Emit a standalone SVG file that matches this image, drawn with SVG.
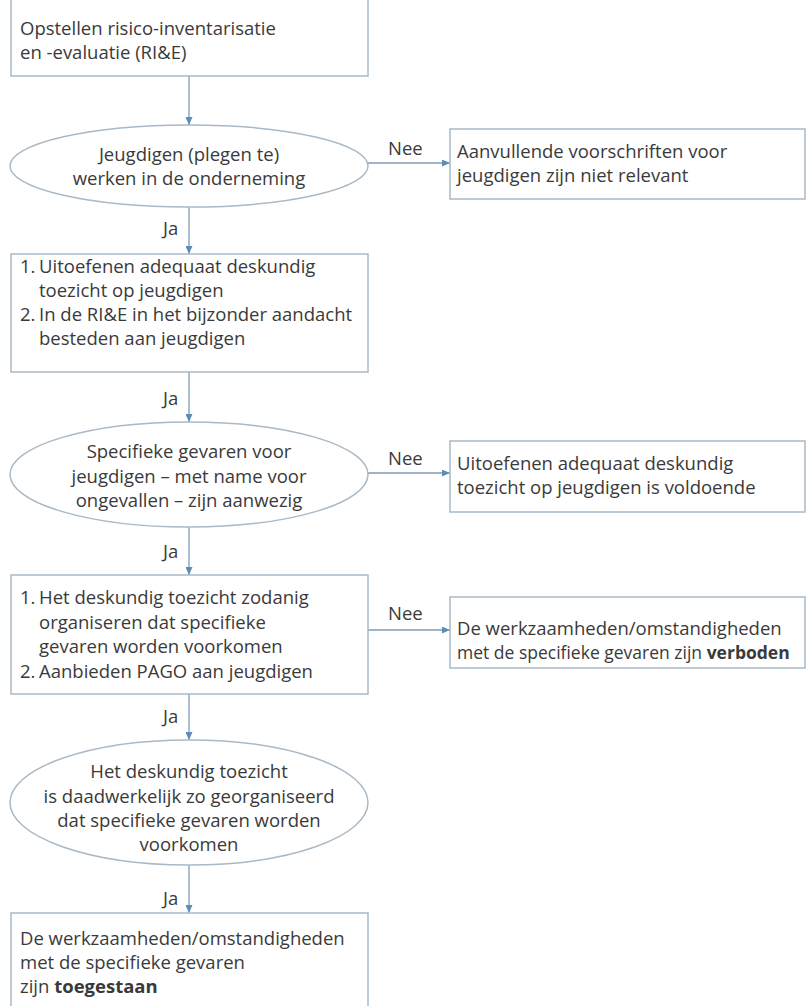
<svg xmlns="http://www.w3.org/2000/svg" width="806" height="1006" viewBox="0 0 806 1006">
<style>
.box{fill:#ffffff;stroke:#a9b9c6;stroke-width:1.5}
.con{stroke:#7d9db8;stroke-width:1.3;fill:none}
.t{font-family:"Open Sans","Liberation Sans",sans-serif;font-size:18.5px;fill:#3a3a3a}
.c{text-anchor:middle}
.b{font-weight:bold}
.s{font-size:17.5px}
</style>
<defs>
<marker id="ah" markerUnits="userSpaceOnUse" viewBox="0 0 8 7" refX="8" refY="3.5" markerWidth="8" markerHeight="7" orient="auto">
<path d="M0,0 L8,3.5 L0,7 z" fill="#5d8db5"/>
</marker>
</defs>
<rect width="806" height="1006" fill="#ffffff"/>
<g id="connectors">
<line class="con" x1="189" y1="76" x2="189" y2="125" marker-end="url(#ah)"/>
<line class="con" x1="189" y1="207" x2="189" y2="254" marker-end="url(#ah)"/>
<line class="con" x1="368" y1="163" x2="450" y2="163" marker-end="url(#ah)"/>
<line class="con" x1="189" y1="372" x2="189" y2="422" marker-end="url(#ah)"/>
<line class="con" x1="368" y1="473" x2="450" y2="473" marker-end="url(#ah)"/>
<line class="con" x1="189" y1="527" x2="189" y2="575" marker-end="url(#ah)"/>
<line class="con" x1="368" y1="630" x2="450" y2="630" marker-end="url(#ah)"/>
<line class="con" x1="189" y1="694" x2="189" y2="740" marker-end="url(#ah)"/>
<line class="con" x1="189" y1="865" x2="189" y2="913" marker-end="url(#ah)"/>
<text class="t" x="163" y="235">Ja</text>
<text class="t" x="163" y="405">Ja</text>
<text class="t" x="163" y="558">Ja</text>
<text class="t" x="163" y="723">Ja</text>
<text class="t" x="163" y="905">Ja</text>
<text class="t" x="388" y="155">Nee</text>
<text class="t" x="388" y="465">Nee</text>
<text class="t" x="388" y="620">Nee</text>
</g>
<g id="n1">
<rect class="box" x="11" y="-4" width="357" height="80"/>
<text class="t" x="20" y="35">Opstellen risico-inventarisatie</text>
<text class="t" x="20" y="59">en -evaluatie (RI&amp;E)</text>
</g>
<g id="d1">
<ellipse class="box" cx="189" cy="166" rx="179" ry="41"/>
<text class="t c" x="189" y="161">Jeugdigen (plegen te)</text>
<text class="t c" x="189" y="185">werken in de onderneming</text>
</g>
<g id="r1">
<rect class="box" x="450" y="129" width="355" height="70"/>
<text class="t" x="457" y="158">Aanvullende voorschriften voor</text>
<text class="t" x="457" y="182">jeugdigen zijn niet relevant</text>
</g>
<g id="n2">
<rect class="box" x="11" y="254" width="357" height="118"/>
<text class="t" x="20" y="273">1.</text>
<text class="t" x="39" y="273">Uitoefenen adequaat deskundig</text>
<text class="t" x="39" y="297">toezicht op jeugdigen</text>
<text class="t" x="20" y="321">2.</text>
<text class="t" x="39" y="321">In de RI&amp;E in het bijzonder aandacht</text>
<text class="t" x="39" y="345">besteden aan jeugdigen</text>
</g>
<g id="d2">
<ellipse class="box" cx="189" cy="474.5" rx="179" ry="52.5"/>
<text class="t c" x="189" y="458">Specifieke gevaren voor</text>
<text class="t c" x="189" y="483">jeugdigen – met name voor</text>
<text class="t c" x="189" y="507">ongevallen – zijn aanwezig</text>
</g>
<g id="r2">
<rect class="box" x="450" y="441" width="355" height="71"/>
<text class="t" x="457" y="470">Uitoefenen adequaat deskundig</text>
<text class="t" x="457" y="494">toezicht op jeugdigen is voldoende</text>
</g>
<g id="n3">
<rect class="box" x="11" y="575" width="357" height="119"/>
<text class="t" x="20" y="604">1.</text>
<text class="t" x="39" y="604">Het deskundig toezicht zodanig</text>
<text class="t" x="39" y="628.5">organiseren dat specifieke</text>
<text class="t" x="39" y="653">gevaren worden voorkomen</text>
<text class="t" x="20" y="677.5">2.</text>
<text class="t" x="39" y="677.5">Aanbieden PAGO aan jeugdigen</text>
</g>
<g id="r3">
<rect class="box" x="450" y="597" width="355" height="71"/>
<text class="t" x="457" y="635">De werkzaamheden/omstandigheden</text>
<text class="t s" x="457" y="659">met de specifieke gevaren zijn <tspan class="b">verboden</tspan></text>
</g>
<g id="d3">
<ellipse class="box" cx="189" cy="802.5" rx="179" ry="62.5"/>
<text class="t c" x="189" y="778">Het deskundig toezicht</text>
<text class="t c" x="189" y="802.5">is daadwerkelijk zo georganiseerd</text>
<text class="t c" x="189" y="827">dat specifieke gevaren worden</text>
<text class="t c" x="189" y="851">voorkomen</text>
</g>
<g id="n4">
<rect class="box" x="11" y="913" width="357" height="100"/>
<text class="t" x="20" y="945">De werkzaamheden/omstandigheden</text>
<text class="t" x="20" y="969">met de specifieke gevaren</text>
<text class="t" x="20" y="993">zijn <tspan class="b">toegestaan</tspan></text>
</g>
</svg>
